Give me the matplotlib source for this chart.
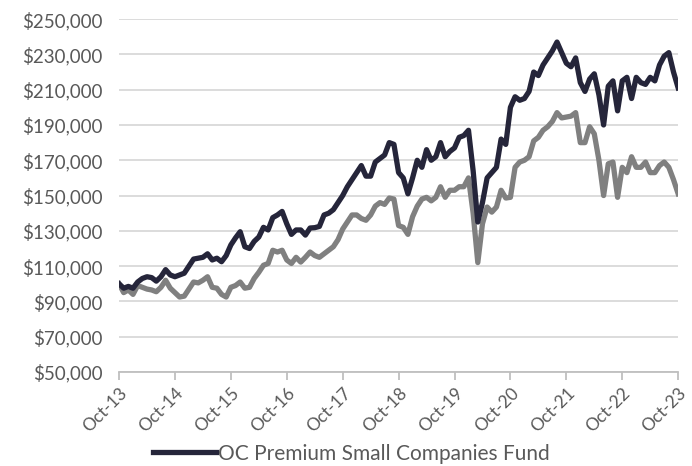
# OC Premium Small Companies Fund - growth of $100,000

import matplotlib.pyplot as plt
from matplotlib.ticker import FuncFormatter

# ── Data (monthly, Oct-13 to Oct-23) ─────────────────────────
fund = [
    100000, 97500, 98500, 97500, 101000, 103000, 104000, 103500, 101500, 104000,
    108000, 105000, 104000, 105000, 106000, 110000, 114000, 114500, 115000, 117000,
    113500, 114500, 112500, 116000, 122000, 126000, 129500, 121000, 120000, 124000,
    126500, 132000, 130500, 137500, 139000, 141000, 134000, 128000, 130500, 130500,
    127600, 131600, 131800, 132500, 139000, 140000, 142000, 146000, 150000, 155000,
    159000, 163000, 167000, 161000, 161000, 169000, 171000, 173000, 180000, 179000,
    163000, 160000, 151000, 160000, 170000, 166000, 176000, 170000, 172000, 180000,
    172000, 175000, 177000, 183000, 184000, 187000, 164000, 135000, 146000, 160000,
    163000, 166000, 182000, 179000, 200000, 206000, 204000, 205000, 209000, 220000,
    218000, 224000, 228000, 232000, 237000, 231000, 225000, 223000, 228000, 214000,
    209000, 216000, 219000, 207000, 190000, 212000, 215000, 198000, 215000, 217000,
    205000, 217000, 214000, 213000, 217000, 215000, 224000, 229000, 231000, 220000,
    211000,
]

index = [
    100000, 95000, 96500, 94000, 99000, 98000, 97000, 96500, 95500, 98000,
    102000, 97500, 95000, 92500, 93000, 97000, 101000, 100500, 102000, 104000,
    98000, 97500, 94000, 92500, 98000, 99000, 101000, 97500, 98000, 103000,
    106500, 110500, 111500, 119000, 118000, 119000, 113500, 111500, 115000, 112300,
    115000, 118000, 116000, 115000, 117000, 119000, 121000, 125000, 131000, 135000,
    139000, 139000, 137000, 136000, 139000, 144000, 146000, 145000, 148600, 148000,
    133000, 132000, 128000, 138000, 144000, 148000, 149000, 147000, 149000, 155000,
    149000, 153000, 153000, 155000, 155000, 160000, 140000, 112000, 134000, 143500,
    140600, 143500, 153000, 148600, 149000, 166000, 169000, 170000, 172000, 181000,
    183000, 187000, 189000, 192000, 197000, 194000, 194500, 195000, 197000, 180000,
    180000, 189000, 185000, 170000, 150000, 168000, 169000, 149000, 166000, 163000,
    172000, 166000, 166000, 169000, 163000, 163000, 167000, 169000, 166000, 159000,
    151000,
]

tick_labels = ["Oct-13", "Oct-14", "Oct-15", "Oct-16", "Oct-17", "Oct-18",
               "Oct-19", "Oct-20", "Oct-21", "Oct-22", "Oct-23"]

months = list(range(len(fund)))

# ── Chart ─────────────────────────────────────────────────────
plt.rcParams["font.family"] = ["Lato", "DejaVu Sans"]
text_color = "#595959"

fig = plt.figure(figsize=(6.92, 4.66), dpi=100)
ax = fig.add_axes([0.172, 0.2017, 0.808, 0.7573])

ax.plot(months, index, color="#808080", linewidth=3.8, solid_joinstyle="round")
ax.plot(months, fund, color="#25253a", linewidth=3.8, solid_joinstyle="round",
        label="OC Premium Small Companies Fund")

ax.set_xlim(0, 120)
ax.set_ylim(50000, 250000)
ax.set_yticks(range(50000, 250001, 20000))
ax.yaxis.set_major_formatter(FuncFormatter(lambda v, p: f"${v:,.0f}"))
ax.set_xticks(range(0, 121, 12))
ax.set_xticklabels(tick_labels, rotation=45, ha="right", rotation_mode="anchor")

ax.grid(axis="y", color="#d9d9d9", linewidth=1.3)
ax.set_axisbelow(True)
for side in ["left", "right", "top"]:
    ax.spines[side].set_visible(False)
ax.spines["bottom"].set_color("#bfbfbf")
ax.spines["bottom"].set_linewidth(1.3)

ax.tick_params(axis="y", length=0, labelsize=13.5, colors=text_color, pad=12)
ax.tick_params(axis="x", length=6, width=1.3, color="#bfbfbf",
               labelsize=12.5, labelcolor=text_color, pad=3)

leg = fig.legend(loc="lower center", bbox_to_anchor=(0.508, -0.035), frameon=False,
                 fontsize=15, handlelength=3.0, handletextpad=0.1)
for t in leg.get_texts():
    t.set_color(text_color)

fig.savefig("out.png", dpi=100)
